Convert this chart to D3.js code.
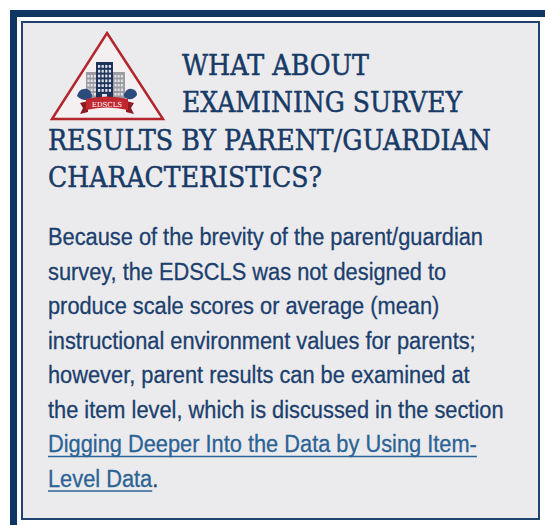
<!DOCTYPE html>
<html lang="en">
<head>
  <meta charset="utf-8">
  <script src="https://d3js.org/d3.v7.min.js"></script>
  <style>
    body, html {
      margin: 0;
      padding: 0;
      background: #fff;
    }
  </style>
</head>
<body>
<svg id="box" width="545" height="525"></svg>

<script>
  // text content of the call-out box
  var titleLines = ["WHAT ABOUT", "EXAMINING SURVEY", "RESULTS BY PARENT/GUARDIAN", "CHARACTERISTICS?"];
  var titleIndent = [true, true, false, false];      // first two lines sit beside the logo
  var titleWidths = [187, 280, 443, 274];             // widths
  var bodyLines = [
    "Because of the brevity of the parent/guardian",
    "survey, the EDSCLS was not designed to",
    "produce scale scores or average (mean)",
    "instructional environment values for parents;",
    "however, parent results can be examined at",
    "the item level, which is discussed in the section"
  ];
  var linkLines = ["Digging Deeper Into the Data by Using Item-", "Level Data"];
  var linkTail = ".";

  var svg = d3.select("#box");
  var navy = "#173a66";
  var textColor = "#1c3f6d";
  var linkColor = "#2c6394";
  var sans = "Liberation Sans, Arial, sans-serif";

  // frame: thick bars on top and left, thin inner border
  svg.append("rect").attr("x", 10).attr("y", 10).attr("width", 7).attr("height", 515).attr("fill", "#0f3562");
  svg.append("rect").attr("x", 10).attr("y", 10).attr("width", 535).attr("height", 7).attr("fill", "#0f3562");
  svg.append("rect")
    .attr("x", 22).attr("y", 22).attr("width", 517).attr("height", 497)
    .attr("fill", "#ebebee")
    .attr("stroke", "#1f4270")
    .attr("stroke-width", 2);

  // logo
  var logo = svg.append("g").attr("class", "logo");
  logo.append("path")
    .attr("d", "M107,33 L163,119 L52,119 Z")
    .attr("fill", "#f4eff0")
    .attr("stroke", "#b3262d")
    .attr("stroke-width", 2.5);

  // side buildings
  [[86, 72, 10], [113, 72, 12]].forEach(function(b) {
    logo.append("rect").attr("x", b[0]).attr("y", b[1]).attr("width", b[2]).attr("height", 30).attr("fill", "#9c9ca3");
    for (var r = 0; r < 5; r++) {
      for (var c = 0; c < 3; c++) {
        logo.append("rect")
          .attr("x", b[0] + 1.5 + c * 3.2).attr("y", b[1] + 3 + r * 4.5)
          .attr("width", 2).attr("height", 2.5).attr("fill", "#e4e4ea");
      }
    }
  });
  // centre building
  logo.append("rect").attr("x", 96).attr("y", 62).attr("width", 17).attr("height", 40).attr("fill", "#1f3258");
  for (var r = 0; r < 6; r++) {
    for (var c = 0; c < 4; c++) {
      logo.append("rect")
        .attr("x", 98 + c * 3.6).attr("y", 65 + r * 4.8)
        .attr("width", 2.2).attr("height", 2.8).attr("fill", "#dfe3ee");
    }
  }
  logo.append("rect").attr("x", 102).attr("y", 94).attr("width", 5).attr("height", 8).attr("fill", "#dfe3ee");

  // blue shrubs either side
  logo.append("path").attr("d", "M77,96 q2,-7 7,-7 q5,-1 7,4 q3,3 -1,6 q-7,3 -13,-3 Z").attr("fill", "#2b4b7c");
  logo.append("path").attr("d", "M124,94 q3,-6 8,-5 q5,1 5,6 q-3,5 -9,4 q-5,-1 -4,-5 Z").attr("fill", "#2b4b7c");

  // ribbon
  logo.append("path").attr("d", "M80,103 L88,101 L88,112 L80,114 L83,108 Z").attr("fill", "#8e1b22");
  logo.append("path").attr("d", "M134,103 L126,101 L126,112 L134,114 L131,108 Z").attr("fill", "#8e1b22");
  logo.append("path")
    .attr("d", "M86,99 Q107,94 128,99 L128,110 Q107,105 86,110 Z")
    .attr("fill", "#c1272f");
  logo.append("text")
    .attr("x", 107).attr("y", 107)
    .attr("text-anchor", "middle")
    .attr("font-family", "DejaVu Serif")
    .attr("font-size", 7)
    .attr("fill", "#fff")
    .text("EDSCLS");

  // title
  var titleY = d3.scaleLinear().domain([0, 3]).range([75, 187]);
  svg.selectAll(".title")
    .data(titleLines)
    .enter().append("text")
    .attr("class", "title")
    .attr("x", function(d, i) { return titleIndent[i] ? 182 : 48; })
    .attr("y", function(d, i) { return titleY(i); })
    .attr("font-family", "DejaVu Serif")
    .attr("font-size", 27)
    .attr("fill", navy)
    .attr("stroke", navy)
    .attr("stroke-width", 0.5)
    .attr("textLength", function(d, i) { return titleWidths[i]; })
    .attr("lengthAdjust", "spacingAndGlyphs")
    .text(function(d) { return d; });

  // body text
  var lineY = d3.scaleLinear().domain([0, 7]).range([245, 486.5]);
  var bodyFont = 23;
  var body = svg.selectAll(".body")
    .data(bodyLines)
    .enter().append("text")
    .attr("class", "body")
    .attr("x", 48)
    .attr("y", function(d, i) { return lineY(i); })
    .attr("font-family", sans)
    .attr("font-size", bodyFont)
    .attr("fill", textColor)
    .attr("stroke", textColor)
    .attr("stroke-width", 0.3)
    .text(function(d) { return d; });

  // squeeze the sans text a little, the original face is narrower
  var k = 435 / body.node().getComputedTextLength();
  body.each(function() {
    var w = this.getComputedTextLength();
    d3.select(this).attr("textLength", w * k).attr("lengthAdjust", "spacingAndGlyphs");
  });

  linkLines.forEach(function(t, j) {
    var i = bodyLines.length + j;
    var last = j === linkLines.length - 1;
    var txt = svg.append("text")
      .attr("x", 48)
      .attr("y", lineY(i))
      .attr("font-family", sans)
      .attr("font-size", bodyFont)
      .attr("stroke-width", 0.3);
    var link = txt.append("tspan")
      .attr("fill", linkColor)
      .attr("stroke", linkColor)
      .text(t);
    var w = link.node().getComputedTextLength() * k;
    if (last) {
      txt.append("tspan")
        .attr("fill", textColor)
        .attr("stroke", textColor)
        .text(linkTail);
    }
    txt.attr("textLength", txt.node().getComputedTextLength() * k).attr("lengthAdjust", "spacingAndGlyphs");
    svg.append("line")
      .attr("x1", 48).attr("x2", 48 + w)
      .attr("y1", lineY(i) + 4.5).attr("y2", lineY(i) + 4.5)
      .attr("stroke", linkColor)
      .attr("stroke-width", 1.5);
  });
</script>
</body>
</html>
